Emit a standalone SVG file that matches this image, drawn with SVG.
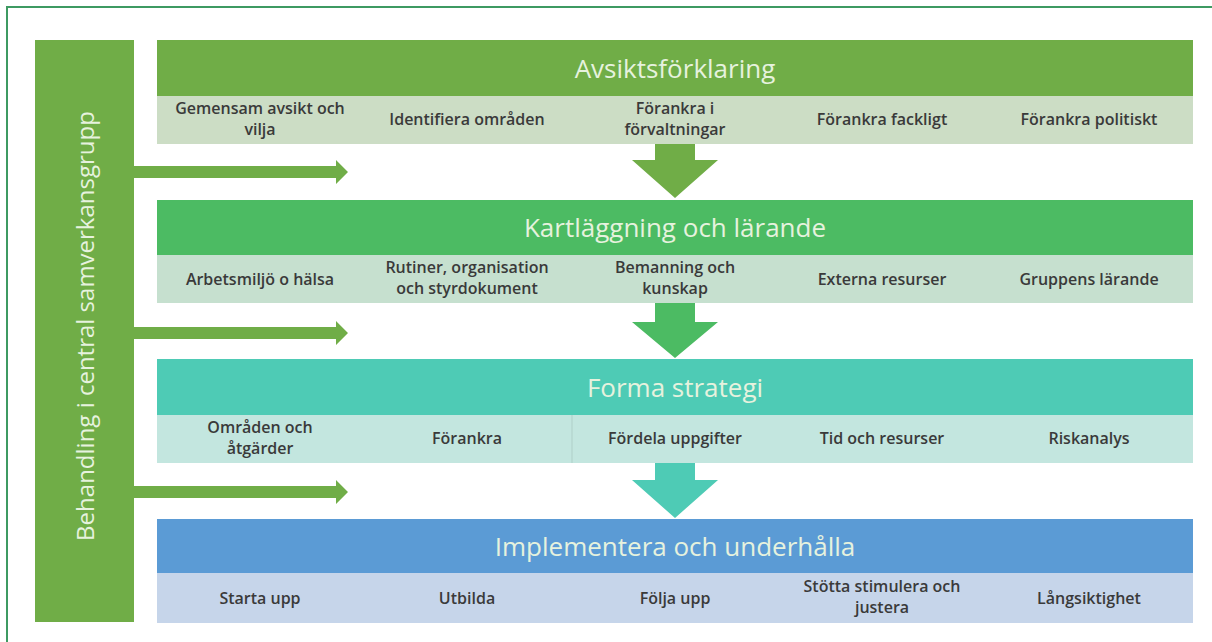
<svg xmlns="http://www.w3.org/2000/svg" width="1212" height="642" viewBox="0 0 1212 642">
<style>
.h{font-family:"Open Sans","Liberation Sans",sans-serif;font-size:26px;fill:#E6F2DE;text-anchor:middle;dominant-baseline:central}
.s{font-family:"Open Sans","Liberation Sans",sans-serif;font-size:16px;font-weight:600;fill:#3A3A3A;text-anchor:middle}
.v{font-family:"Open Sans","Liberation Sans",sans-serif;font-size:24px;fill:#E6F2DE;text-anchor:middle;dominant-baseline:central}
</style>
<rect width="1212" height="642" fill="#FFFFFF"/>
<path d="M7,642 V7 H1212" fill="none" stroke="#3E9A62" stroke-width="2"/>
<g id="side">
<rect x="35" y="40" width="99" height="582" fill="#70AD47"/>
<text class="v" transform="translate(84,326) rotate(-90)">Behandling i central samverkansgrupp</text>
</g>
<g id="band1">
<rect x="157" y="40" width="1036" height="56" fill="#70AD47"/>
<rect x="157" y="96" width="1036" height="48" fill="#CCDDC5"/>
<text class="h" x="675" y="68">Avsiktsförklaring</text>
<text class="s"><tspan x="260" y="114">Gemensam avsikt och</tspan><tspan x="260" y="135">vilja</tspan></text>
<text class="s" x="467" y="125">Identifiera områden</text>
<text class="s"><tspan x="675" y="114">Förankra i</tspan><tspan x="675" y="135">förvaltningar</tspan></text>
<text class="s" x="882" y="125">Förankra fackligt</text>
<text class="s" x="1089" y="125">Förankra politiskt</text>
</g>
<g id="band2">
<rect x="157" y="200" width="1036" height="55" fill="#4CBB63"/>
<rect x="157" y="255" width="1036" height="48" fill="#C6E0CF"/>
<text class="h" x="675" y="227">Kartläggning och lärande</text>
<text class="s" x="260" y="285">Arbetsmiljö o hälsa</text>
<text class="s"><tspan x="467" y="273">Rutiner, organisation</tspan><tspan x="467" y="294">och styrdokument</tspan></text>
<text class="s"><tspan x="675" y="273">Bemanning och</tspan><tspan x="675" y="294">kunskap</tspan></text>
<text class="s" x="882" y="285">Externa resurser</text>
<text class="s" x="1089" y="285">Gruppens lärande</text>
</g>
<g id="band3">
<rect x="157" y="359" width="1036" height="56" fill="#4ECBB5"/>
<rect x="157" y="415" width="1036" height="48" fill="#C3E6DF"/>
<line x1="572" y1="415" x2="572" y2="463" stroke="#AFCFC8" stroke-width="1"/>
<text class="h" x="675" y="387">Forma strategi</text>
<text class="s"><tspan x="260" y="433">Områden och</tspan><tspan x="260" y="454">åtgärder</tspan></text>
<text class="s" x="467" y="444">Förankra</text>
<text class="s" x="675" y="444">Fördela uppgifter</text>
<text class="s" x="882" y="444">Tid och resurser</text>
<text class="s" x="1089" y="444">Riskanalys</text>
</g>
<g id="band4">
<rect x="157" y="519" width="1036" height="54" fill="#5B9BD5"/>
<rect x="157" y="573" width="1036" height="50" fill="#C6D5EA"/>
<text class="h" x="675" y="546">Implementera och underhålla</text>
<text class="s" x="260" y="604">Starta upp</text>
<text class="s" x="467" y="604">Utbilda</text>
<text class="s" x="675" y="604">Följa upp</text>
<text class="s"><tspan x="882" y="592">Stötta stimulera och</tspan><tspan x="882" y="613">justera</tspan></text>
<text class="s" x="1089" y="604">Långsiktighet</text>
</g>
<g id="connectors">
<polygon points="134,166 336,166 336,160 348,172 336,184 336,178 134,178" fill="#70AD47"/>
<polygon points="134,327 336,327 336,321 348,333 336,345 336,339 134,339" fill="#70AD47"/>
<polygon points="134,486 336,486 336,480 348,492 336,504 336,498 134,498" fill="#70AD47"/>
<polygon points="655,144 695,144 695,160 718,160 675,198 632,160 655,160" fill="#70AD47"/>
<polygon points="655,303 695,303 695,322 718,322 675,358 632,322 655,322" fill="#4CBB63"/>
<polygon points="655,463 695,463 695,480 718,480 675,518 632,480 655,480" fill="#4ECBB5"/>
</g>
</svg>
